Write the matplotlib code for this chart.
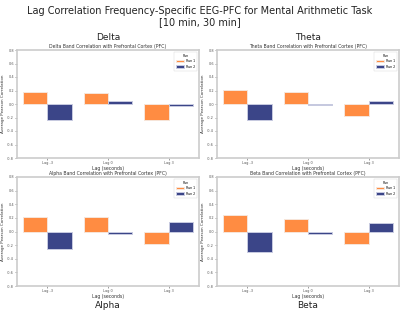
import matplotlib
matplotlib.use("Agg")
import matplotlib.pyplot as plt
import numpy as np

bands = ["Delta", "Theta", "Alpha", "Beta"]
lags = ["Lag -3", "Lag 0", "Lag 3"]
runs = ["Run 1", "Run 2"]
run1 = {
    "Delta": [0.18, 0.16, -0.24],
    "Theta": [0.21, 0.18, -0.18],
    "Alpha": [0.22, 0.21, -0.19],
    "Beta": [0.24, 0.19, -0.185],
}
run2 = {
    "Delta": [-0.24, 0.05, -0.03],
    "Theta": [-0.24, -0.01, 0.05],
    "Alpha": [-0.26, -0.035, 0.14],
    "Beta": [-0.30, -0.03, 0.13],
}
yticks = [-0.8, -0.6, -0.4, -0.2, 0.0, 0.2, 0.4, 0.6, 0.8]
colors = ["#FF8C42", "#3B4588"]

W, H = 400, 319
fig = plt.figure(figsize=(4.0, 3.19), dpi=100)
fig.patch.set_facecolor("white")

fig.text(0.5, 1 - 10.5 / H, "Lag Correlation Frequency-Specific EEG-PFC for Mental Arithmetic Task",
         ha="center", va="center", fontsize=7, color="#222222")
fig.text(0.5, 1 - 22 / H, "[10 min, 30 min]", ha="center", va="center", fontsize=7, color="#222222")

# panel boxes in pixels: left, top, right, bottom
panels = {
    "Delta": (17, 50, 199, 158),
    "Theta": (217, 50, 399, 158),
    "Alpha": (17, 177, 199, 286),
    "Beta": (217, 177, 399, 286),
}
band_label_y = {"Delta": 37.5, "Theta": 37.5, "Alpha": 306, "Beta": 306}

for band in bands:
    l, t, r, b = panels[band]
    ax = fig.add_axes([l / W, 1 - b / H, (r - l) / W, (b - t) / H])
    x = np.arange(len(lags))
    w = 0.4
    ax.bar(x - w / 2, run1[band], width=w, color=colors[0], edgecolor="#f6e6da",
           linewidth=0.7, label=runs[0])
    ax.bar(x + w / 2, run2[band], width=w, color=colors[1], edgecolor="#c8cbe0",
           linewidth=0.7, label=runs[1])
    ax.set_xlim(-0.5, 2.5)
    ax.set_ylim(-0.8, 0.8)
    ax.set_yticks(yticks)
    ax.set_yticklabels([f"{v:.1f}" for v in yticks])
    ax.set_xticks(x)
    ax.set_xticklabels(lags)
    ax.tick_params(labelsize=2.5, length=1.2, width=0.4, pad=1, colors="#555555")
    for s in ax.spines.values():
        s.set_color("#cccccc")
        s.set_linewidth(1.2)
    ax.set_xlabel("Lag (seconds)", fontsize=3.3, labelpad=0.8, color="#333333")
    ax.set_ylabel("Average Pearson Correlation", fontsize=3.0, labelpad=1.5, color="#333333")
    ax.set_title(f"{band} Band Correlation with Prefrontal Cortex (PFC)", fontsize=3.3,
                 pad=1.5, color="#333333")
    leg = ax.legend(title="Run", fontsize=2.3, title_fontsize=2.3, loc="upper right",
                    frameon=True, handlelength=2.5, borderpad=0.6, labelspacing=0.5)
    leg.get_frame().set_linewidth(0.3)
    cx = (l + r) / 2 / W
    fig.text(cx, 1 - band_label_y[band] / H, band, ha="center", va="center",
             fontsize=6.5, color="#222222")

fig.savefig("out.png", dpi=100)
